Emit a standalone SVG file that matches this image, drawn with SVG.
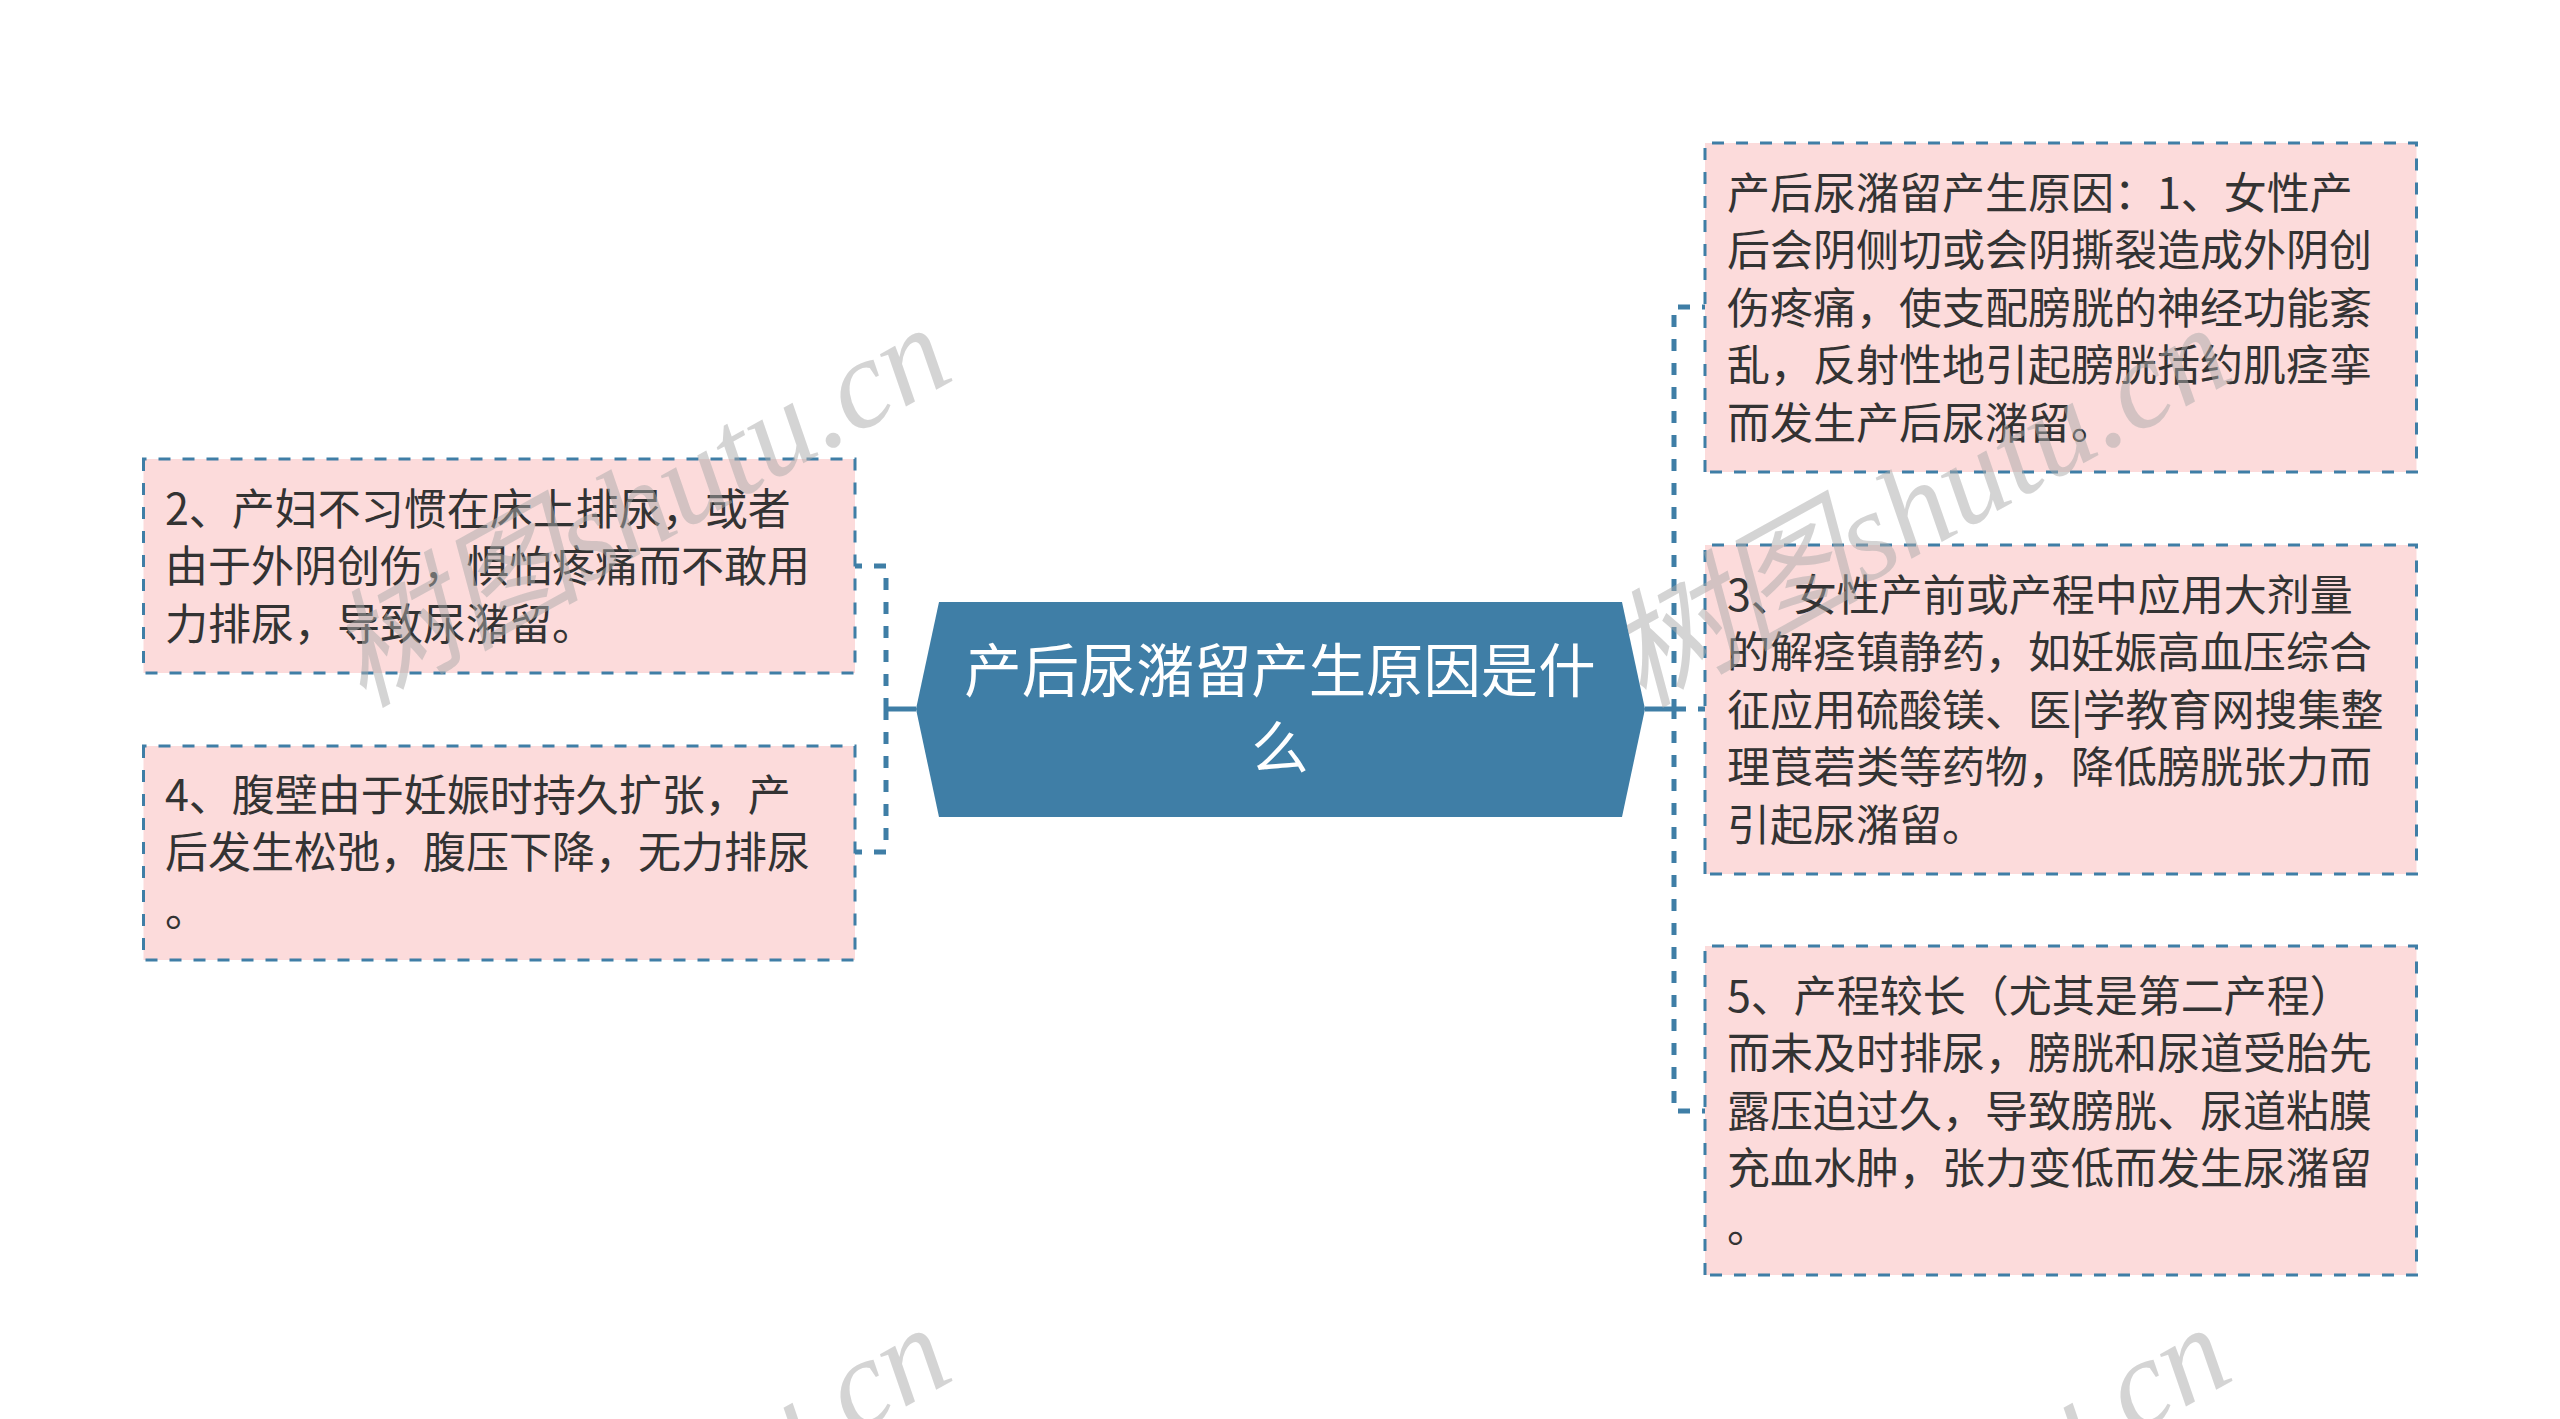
<svg xmlns="http://www.w3.org/2000/svg" width="2560" height="1419" viewBox="0 0 2560 1419">
<style>
.box{fill:#fcdbdb;stroke:#3f7ea6;stroke-width:3;stroke-dasharray:12 12}
.conn{fill:none;stroke:#3f7ea6;stroke-width:5;stroke-dasharray:12 12}
.stub{fill:none;stroke:#3f7ea6;stroke-width:5}
.t{font-family:"Noto Sans CJK SC","Noto Sans",sans-serif;font-size:43px;fill:#333;font-weight:400}
.c{font-family:"Noto Sans CJK SC","Noto Sans",sans-serif;font-size:57.4px;fill:#fff;text-anchor:middle;font-weight:400}
.w{font-family:"Liberation Serif","Noto Sans CJK SC",serif;font-style:italic;font-size:127px;fill:#aaa;fill-opacity:.5}
</style>
<rect width="2560" height="1419" fill="#fff"/>
<g id="connectors">
<path class="stub" d="M916 709H886"/>
<path class="conn" d="M850 566H886V709"/>
<path class="conn" d="M850 852H886V709"/>
<path class="stub" d="M1645 709H1674"/>
<path class="conn" d="M1710 709H1674"/>
<path class="conn" d="M1714 307H1674V709"/>
<path class="conn" d="M1714 1111H1674V709"/>
</g>
<g id="center"><polygon points="916,709 939,602 1622,602 1645,709 1622,817 939,817" fill="#3f7ea6"/>
<text class="c" x="1280" y="692">产后尿潴留产生原因是什</text><text class="c" x="1280" y="769">么</text></g>
<g id="n2"><path class="box" d="M143.500 459V673H855V459Z"/>
<text class="t"><tspan x="165" y="525">2、产妇不习惯在床上排尿，或者</tspan><tspan x="165" y="582">由于外阴创伤，惧怕疼痛而不敢用</tspan><tspan x="165" y="640">力排尿，导致尿潴留。</tspan></text></g>
<g id="n4"><path class="box" d="M143.500 746V960H855V746Z"/>
<text class="t"><tspan x="165" y="811">4、腹壁由于妊娠时持久扩张，产</tspan><tspan x="165" y="868">后发生松弛，腹压下降，无力排尿</tspan><tspan x="165" y="926">。</tspan></text></g>
<g id="n1"><path class="box" d="M1705 472V143H2416.500V472Z"/>
<text class="t"><tspan x="1727" y="209">产后尿潴留产生原因：1、女性产</tspan><tspan x="1727" y="266">后会阴侧切或会阴撕裂造成外阴创</tspan><tspan x="1727" y="324">伤疼痛，使支配膀胱的神经功能紊</tspan><tspan x="1727" y="381">乱，反射性地引起膀胱括约肌痉挛</tspan><tspan x="1727" y="439">而发生产后尿潴留。</tspan></text></g>
<g id="n3"><path class="box" d="M1705 874V545H2416.500V874Z"/>
<text class="t"><tspan x="1727" y="611">3、女性产前或产程中应用大剂量</tspan><tspan x="1727" y="668">的解痉镇静药，如妊娠高血压综合</tspan><tspan x="1727" y="726">征应用硫酸镁、医|学教育网搜集整</tspan><tspan x="1727" y="783">理莨菪类等药物，降低膀胱张力而</tspan><tspan x="1727" y="841">引起尿潴留。</tspan></text></g>
<g id="n5"><path class="box" d="M1705 1275V946H2416.500V1275Z"/>
<text class="t"><tspan x="1727" y="1012">5、产程较长（尤其是第二产程）</tspan><tspan x="1727" y="1069">而未及时排尿，膀胱和尿道受胎先</tspan><tspan x="1727" y="1127">露压迫过久，导致膀胱、尿道粘膜</tspan><tspan x="1727" y="1184">充血水肿，张力变低而发生尿潴留</tspan><tspan x="1727" y="1242">。</tspan></text></g>
<g id="watermarks">
<text class="w" transform="translate(362 708) rotate(-29)">树图shutu.cn</text>
<text class="w" transform="translate(1642 708) rotate(-29)">树图shutu.cn</text>
<text class="w" transform="translate(362 1708) rotate(-29)">树图shutu.cn</text>
<text class="w" transform="translate(1642 1708) rotate(-29)">树图shutu.cn</text>
</g>
</svg>
